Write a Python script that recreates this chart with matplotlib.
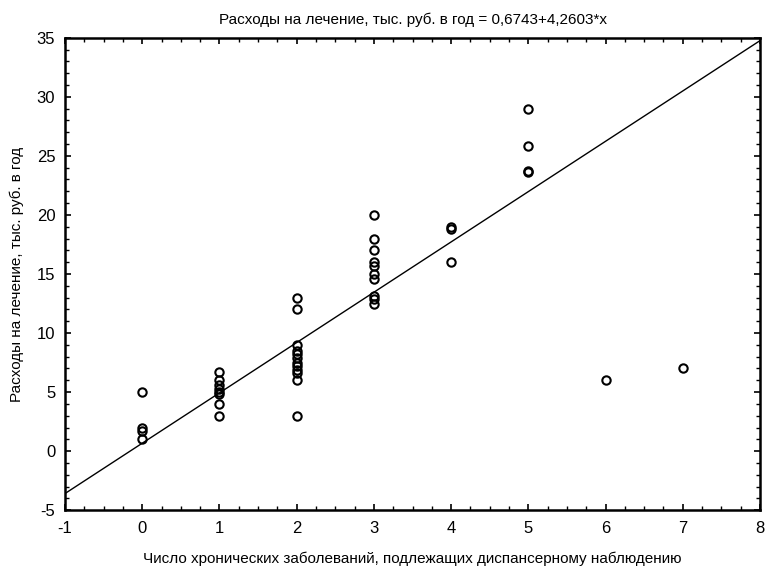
import numpy as np
import matplotlib
matplotlib.use('Agg')
import matplotlib.pyplot as plt
from matplotlib.ticker import MultipleLocator

plt.rcParams['font.family'] = ['Liberation Sans', 'DejaVu Sans']
plt.rcParams['axes.unicode_minus'] = False

# число хронических заболеваний -> расходы (тыс. руб. в год)
x0 = [0, 0, 0, 0]
y0 = [5.0, 2.0, 1.7, 1.0]
x1 = [1] * 8
y1 = [6.7, 6.0, 5.6, 5.3, 5.0, 4.8, 4.0, 3.0]
x2 = [2] * 12
y2 = [13.0, 12.0, 9.0, 8.5, 8.2, 7.9, 7.5, 7.2, 6.9, 6.6, 6.0, 3.0]
x3 = [3] * 10
y3 = [20.0, 18.0, 17.0, 16.0, 15.7, 15.0, 14.6, 13.1, 12.9, 12.5]
x4 = [4, 4, 4]
y4 = [19.0, 18.8, 16.0]
x5 = [5, 5, 5, 5]
y5 = [29.0, 25.8, 23.7, 23.6]
x67 = [6, 7]
y67 = [6.0, 7.0]

a, b = 0.6743, 4.2603

xs = np.array(x0 + x1 + x2 + x3 + x4 + x5 + x67)
ys = np.array(y0 + y1 + y2 + y3 + y4 + y5 + y67)

fig = plt.figure(figsize=(7.65, 5.72), dpi=100)
ax = fig.add_axes([0.085, 0.108, 0.9085, 0.826])

xl = np.array([-1, 8])
ax.plot(xl, a + b * xl, color='black', lw=1.0)
ax.plot(xs, ys, 'o', mfc='none', mec='black', ms=6, mew=1.5)

ax.set_xlim(-1, 8)
ax.set_ylim(-5, 35)
ax.xaxis.set_major_locator(MultipleLocator(1))
ax.xaxis.set_minor_locator(MultipleLocator(0.25))
ax.yaxis.set_major_locator(MultipleLocator(5))
ax.yaxis.set_minor_locator(MultipleLocator(1))
ax.tick_params(which='both', direction='in', top=True, right=True, labelsize=12)
ax.tick_params(axis='x', which='major', pad=8)
ax.tick_params(axis='y', which='major', pad=7)
ax.tick_params(which='major', length=4, width=1.2)
ax.tick_params(which='minor', length=3, width=1.0)
for s in ax.spines.values():
    s.set_linewidth(1.8)

ax.set_title('Расходы на лечение, тыс. руб. в год = 0,6743+4,2603*x', fontsize=11, pad=10)
ax.set_xlabel('Число хронических заболеваний, подлежащих диспансерному наблюдению', fontsize=11, labelpad=11)
ax.set_ylabel('Расходы на лечение, тыс. руб. в год', fontsize=11, labelpad=9)

fig.savefig('out.png', dpi=100)
